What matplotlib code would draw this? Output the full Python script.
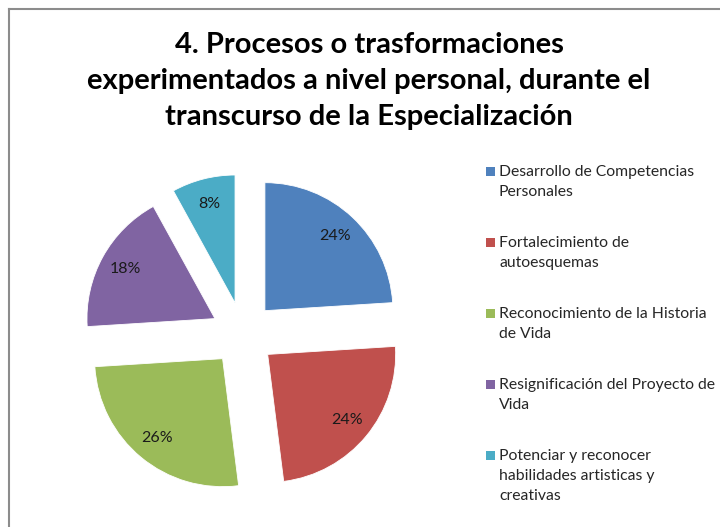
import matplotlib
matplotlib.use("Agg")
import matplotlib.pyplot as plt
from matplotlib.patches import Rectangle
from matplotlib.lines import Line2D

title = "4. Procesos o trasformaciones\nexperimentados a nivel personal, durante el\ntranscurso de la Especialización"
categories = [
    "Desarrollo de Competencias\nPersonales",
    "Fortalecimiento de\nautoesquemas",
    "Reconocimiento de la Historia\nde Vida",
    "Resignificación del Proyecto de\nVida",
    "Potenciar y reconocer\nhabilidades artisticas y\ncreativas",
]
values = [24, 24, 26, 18, 8]
colors = ["#4F81BD", "#C0504D", "#9BBB59", "#8064A2", "#4BACC6"]
explode = [0.25] * 5

FONT = "Lato"
plt.rcParams["font.family"] = [FONT, "DejaVu Sans"]

fig = plt.figure(figsize=(7.2, 5.27), dpi=100)
W, H = 720, 527

# pie axes: center (243,334) px, radius 128 px
R = 128
cx, cy = 243, 334
lim = 1.45
half = lim * R
ax = fig.add_axes([(cx - half) / W, (H - cy - half) / H, 2 * half / W, 2 * half / H])
wedges, texts, autotexts = ax.pie(
    values, explode=explode, colors=colors, startangle=90, counterclock=False,
    autopct=lambda p: f"{p:.0f}%", pctdistance=0.8, radius=1,
    wedgeprops=dict(edgecolor="white", linewidth=0.6),
    textprops=dict(fontsize=11.5, color="#1a1a1a"),
)
ax.set_xlim(-lim, lim)
ax.set_ylim(-lim, lim)
ax.set_aspect("equal")
ax.axis("off")

fig.text(369 / W, 1 - 81 / H, title, ha="center", va="center", fontsize=21,
         fontweight="bold", color="black", linespacing=1.46)

# legend (manual)
first_line_y = [171, 242, 313, 384, 455]
for lab, col, y in zip(categories, colors, first_line_y):
    sq = 9
    fig.patches.append(Rectangle(((486) / W, (H - y - sq / 2) / H), sq / W, sq / H,
                                 transform=fig.transFigure, facecolor=col, edgecolor="none"))
    fig.text(499 / W, (H - y + 6) / H, lab, ha="left", va="top", fontsize=11.3,
             color="#262626", linespacing=1.55)

# chart border (left and top)
fig.add_artist(Line2D([9 / W, 9 / W], [0, 1 - 9 / H], transform=fig.transFigure, color="#8c8c8c", lw=1.5))
fig.add_artist(Line2D([9 / W, 1], [1 - 9 / H, 1 - 9 / H], transform=fig.transFigure, color="#8c8c8c", lw=1.5))

fig.savefig("out.png", dpi=100, facecolor="white")
